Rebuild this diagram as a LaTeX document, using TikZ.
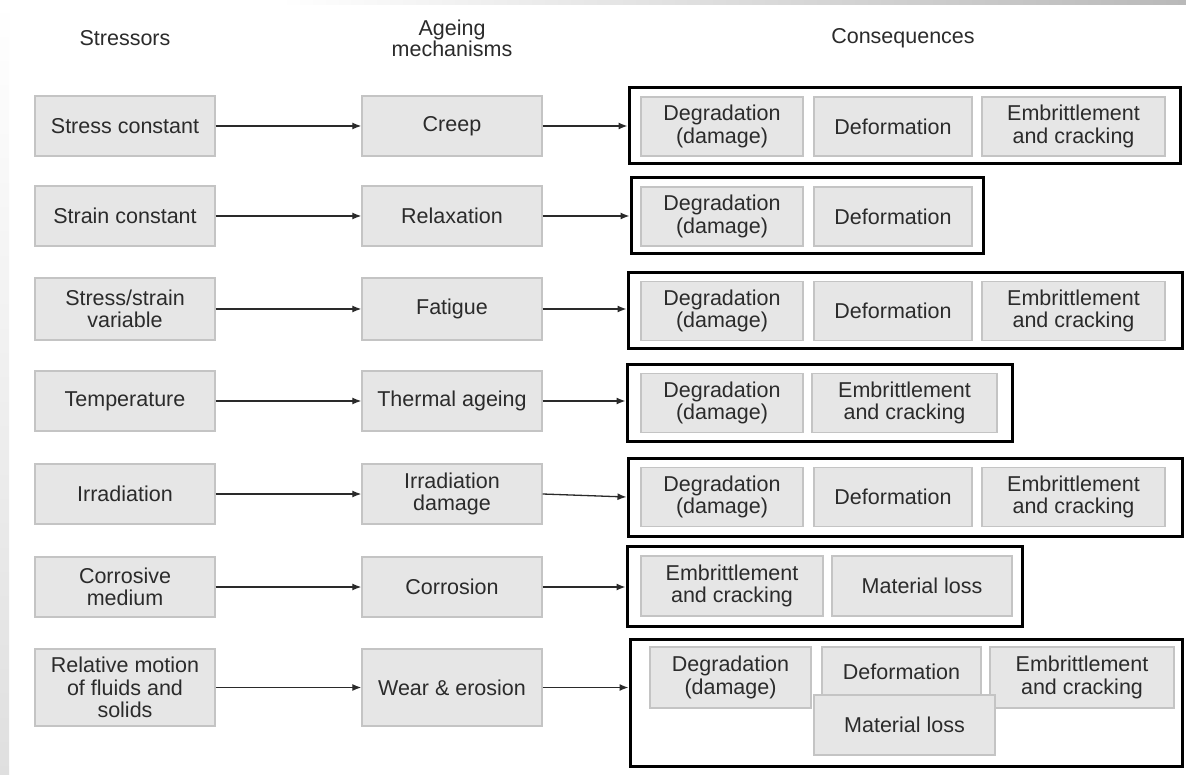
\documentclass[tikz,border=0pt]{standalone}
\usepackage{fontspec}
\setmainfont{Liberation Sans}
\usetikzlibrary{arrows.meta}
\definecolor{boxfill}{HTML}{E6E6E6}
\definecolor{boxline}{HTML}{C4C4C4}
\definecolor{txt}{HTML}{2B2B2B}
\definecolor{arr}{HTML}{2A2A2A}
\tikzset{
  gbox/.style={draw=boxline, fill=boxfill, line width=1.4pt, inner sep=0pt, align=center, text=txt, font=\fontsize{21.5}{22.5}\selectfont},
  sbox/.style={gbox, minimum width=180pt, minimum height=60pt},
  obox/.style={draw=black, line width=3pt, inner sep=0pt},
  hdr/.style={text=txt, align=center, inner sep=0pt, font=\fontsize{21.5}{21}\selectfont},
  conn/.style={draw=arr, line width=1.3pt, -{Latex[length=9pt,width=7pt]}}
}
\begin{document}
\begin{tikzpicture}[x=1pt,y=-1pt]
\path[use as bounding box, fill=white] (0,0) rectangle (1186,775);
\shade[left color=white, right color=gray!55] (280,0) rectangle (1186,5);
\shade[top color=white, bottom color=gray!25] (0,0) rectangle (9,775);

% headers
\node[hdr] (h1) at (125,38) {Stressors};
\node[hdr] (h2) at (452,38) {Ageing\\mechanisms};
\node[hdr] (h3) at (903,38) {Consequences};

% stressors
\node[sbox] (s1) at (125,126) {Stress constant};
\node[sbox] (s2) at (125,216) {Strain constant};
\node[sbox, minimum height=62pt] (s3) at (125,309) {Stress/strain\\variable};
\node[sbox] (s4) at (125,401) {Temperature};
\node[sbox] (s5) at (125,494) {Irradiation};
\node[sbox] (s6) at (125,587) {Corrosive\\medium};
\node[sbox, minimum height=77pt] (s7) at (125,687.5) {Relative motion\\of fluids and\\solids};

% mechanisms
\node[sbox] (m1) at (452,126) {Creep};
\node[sbox] (m2) at (452,216) {Relaxation};
\node[sbox, minimum height=62pt] (m3) at (452,309) {Fatigue};
\node[sbox] (m4) at (452,401) {Thermal ageing};
\node[sbox] (m5) at (452,494) {Irradiation\\damage};
\node[sbox] (m6) at (452,587) {Corrosion};
\node[sbox, minimum height=77pt] (m7) at (452,687.5) {Wear \& erosion};

% outer consequence frames
\node[obox, minimum width=551pt, minimum height=76pt] (o1) at (904.5,126) {};
\node[obox, minimum width=352pt, minimum height=76pt] (o2) at (807,216) {};
\node[obox, minimum width=554pt, minimum height=76pt] (o3) at (905,311) {};
\node[obox, minimum width=385pt, minimum height=76pt] (o4) at (819.5,403) {};
\node[obox, minimum width=554pt, minimum height=78pt] (o5) at (905,497) {};
\node[obox, minimum width=395pt, minimum height=80pt] (o6) at (824.5,586) {};
\node[obox, minimum width=552pt, minimum height=127pt] (o7) at (906,702.5) {};

% row 1
\node[gbox, minimum width=162pt, minimum height=59pt] (c11) at (722,126.5) {Degradation\\(damage)};
\node[gbox, minimum width=158pt, minimum height=59pt] (c12) at (893,126.5) {Deformation};
\node[gbox, minimum width=183pt, minimum height=59pt] (c13) at (1073.5,126.5) {Embrittlement\\and cracking};
% row 2
\node[gbox, minimum width=162pt, minimum height=59pt] (c21) at (722,216.5) {Degradation\\(damage)};
\node[gbox, minimum width=158pt, minimum height=59pt] (c22) at (893,216.5) {Deformation};
% row 3
\node[gbox, minimum width=162pt, minimum height=59pt] (c31) at (722,311) {Degradation\\(damage)};
\node[gbox, minimum width=158pt, minimum height=59pt] (c32) at (893,311) {Deformation};
\node[gbox, minimum width=183pt, minimum height=59pt] (c33) at (1073.5,311) {Embrittlement\\and cracking};
% row 4
\node[gbox, minimum width=162pt, minimum height=59pt] (c41) at (722,403) {Degradation\\(damage)};
\node[gbox, minimum width=185pt, minimum height=59pt] (c42) at (904.5,403) {Embrittlement\\and cracking};
% row 5
\node[gbox, minimum width=162pt, minimum height=59pt] (c51) at (722,497) {Degradation\\(damage)};
\node[gbox, minimum width=158pt, minimum height=59pt] (c52) at (893,497) {Deformation};
\node[gbox, minimum width=183pt, minimum height=59pt] (c53) at (1073.5,497) {Embrittlement\\and cracking};
% row 6
\node[gbox, minimum width=182pt, minimum height=60pt] (c61) at (732,586) {Embrittlement\\and cracking};
\node[gbox, minimum width=180pt, minimum height=60pt] (c62) at (922,586) {Material loss};
% row 7
\node[gbox, minimum width=161pt, minimum height=61pt] (c71) at (730.5,677.5) {Degradation\\(damage)};
\node[gbox, minimum width=159pt, minimum height=50pt] (c72) at (901.5,672) {Deformation};
\node[gbox, minimum width=184pt, minimum height=61pt] (c73) at (1082,677.5) {Embrittlement\\and cracking};
\node[gbox, minimum width=181pt, minimum height=60pt] (c74) at (904.5,725) {Material loss};

% connectors
\foreach \i in {1,...,7}{
  \draw[conn] (s\i.east) -- (m\i.west);
}
\draw[conn] (m1.east) -- (o1.west |- m1.east);
\draw[conn] (m2.east) -- (o2.west |- m2.east);
\draw[conn] (m3.east) -- (o3.west |- m3.east);
\draw[conn] (m4.east) -- (o4.west |- m4.east);
\draw[conn] (m5.east) -- (o5.west);
\draw[conn] (m6.east) -- (o6.west |- m6.east);
\draw[conn] (m7.east) -- (o7.west |- m7.east);
\end{tikzpicture}
\end{document}
